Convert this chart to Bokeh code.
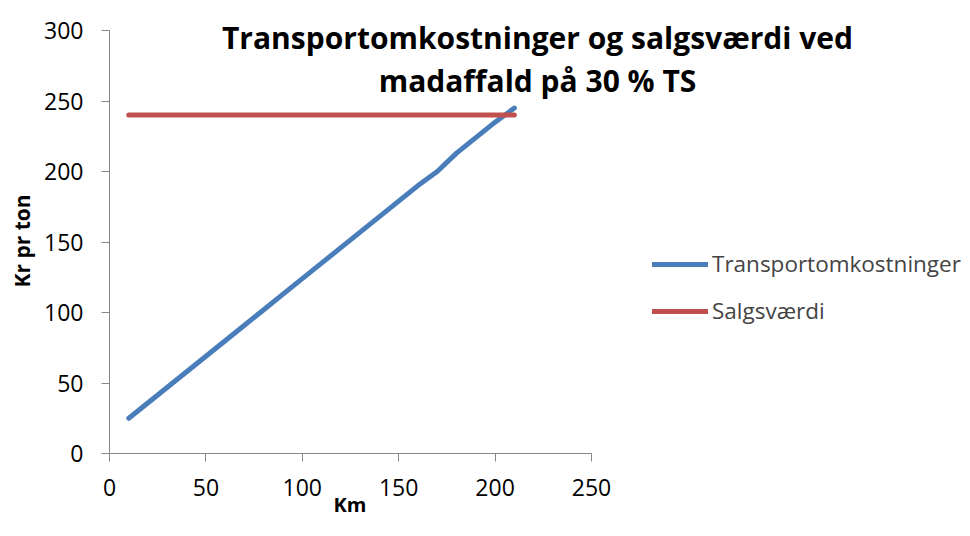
from bokeh.plotting import figure
from bokeh.models import Range1d, Legend, LegendItem, Label, FixedTicker, Title
from bokeh.embed import file_html
from bokeh.resources import INLINE

# Data
km = [10, 20, 30, 40, 50, 60, 70, 80, 90, 100, 110, 120, 130, 140, 150, 160, 170, 180, 190, 200, 210]
transport = [25, 36, 47, 58, 69, 80, 91, 102, 113, 124, 135, 146, 157, 168, 179, 190, 200, 213, 224, 235, 245]
salg = [240] * len(km)
x_ticks = [0, 50, 100, 150, 200, 250]
y_ticks = [0, 50, 100, 150, 200, 250, 300]
x_axis_span = (0, 250)
y_axis_span = (0, 300)
title_lines = ["Transportomkostninger og salgsværdi ved", "madaffald på 30 % TS"]
x_label = "Km"
y_label = "Kr pr ton"

FONT = "Open Sans"
AXIS_COL = "#868686"

# Layout (pixels)
W, H = 970, 536
LEFT, BOTTOM_Y, RIGHT_X, TOP_Y = 109, 453, 591, 30   # where the axis spans sit
px_x = (RIGHT_X - LEFT) / (x_axis_span[1] - x_axis_span[0])
px_y = (BOTTOM_Y - TOP_Y) / (y_axis_span[1] - y_axis_span[0])
frame_w = W - LEFT
frame_h = BOTTOM_Y

p = figure(width=W, height=H, output_backend="svg", toolbar_location=None,
           x_range=Range1d(0, frame_w / px_x), y_range=Range1d(0, frame_h / px_y),
           min_border_left=LEFT, min_border_right=0, min_border_top=0,
           min_border_bottom=H - BOTTOM_Y)
p.outline_line_color = None
p.xgrid.visible = False
p.ygrid.visible = False

blue = p.line(km, transport, line_color="#4A7EBB", line_width=5, line_cap="round", line_join="round")
red = p.line(km, salg, line_color="#C0504D", line_width=5, line_cap="round")

for ax in (p.xaxis[0], p.yaxis[0]):
    ax.axis_line_color = AXIS_COL
    ax.major_tick_line_color = AXIS_COL
    ax.minor_tick_line_color = None
    ax.major_tick_in = 0
    ax.major_tick_out = 8
    ax.major_label_text_font = FONT
    ax.major_label_text_font_size = "23px"
    ax.major_label_text_color = "#000000"

p.xaxis[0].ticker = FixedTicker(ticks=x_ticks)
p.yaxis[0].ticker = FixedTicker(ticks=y_ticks)
p.xaxis[0].bounds = x_axis_span
p.yaxis[0].bounds = y_axis_span
p.xaxis[0].major_label_standoff = 17
p.yaxis[0].major_label_standoff = 18

# axis titles placed as side-panel titles so they centre on the axis spans
p.add_layout(Title(text=x_label, align="left", offset=224, standoff=-16, vertical_align="top",
                   text_font=FONT, text_font_style="bold", text_font_size="20px",
                   text_color="#000000"), "below")
p.add_layout(Title(text=y_label, align="left", offset=166, standoff=8, vertical_align="top",
                   text_font=FONT, text_font_style="bold", text_font_size="21px",
                   text_color="#000000"), "left")

legend = Legend(items=[LegendItem(label="Transportomkostninger", renderers=[blue]),
                       LegendItem(label="Salgsværdi", renderers=[red])],
                location=(543, 127), glyph_width=56, glyph_height=26, label_height=26,
                label_standoff=4, spacing=16, padding=0, margin=0,
                border_line_alpha=0, background_fill_alpha=0,
                label_text_font=FONT, label_text_font_size="22.5px")
p.add_layout(legend, "center")

for txt, yy in zip(title_lines, [BOTTOM_Y - 37, BOTTOM_Y - 80]):
    p.add_layout(Label(x=537 - LEFT, y=yy, x_units="screen", y_units="screen", text=txt,
                       text_align="center", text_baseline="middle",
                       text_font=FONT, text_font_style="bold", text_font_size="30px",
                       text_color="#000000"))

open("out.html", "w").write(file_html(p, INLINE))
